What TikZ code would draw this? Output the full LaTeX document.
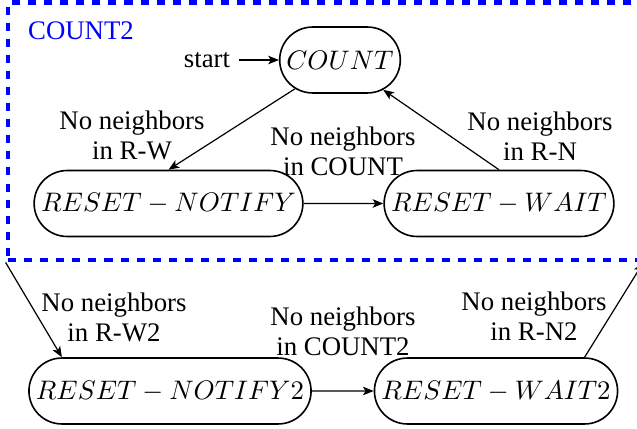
\documentclass[tikz,border=0pt]{standalone}
\usepackage{fontspec}
\setmainfont{Liberation Serif}
\usetikzlibrary{shapes.misc,arrows.meta,fit}
\tikzset{
  stnode/.style={draw, rounded rectangle, line width=0.6pt, minimum height=24.6pt, inner xsep=2pt},
  edgelbl/.style={align=center, inner sep=0pt},
  trans/.style={-{Stealth[length=4pt,width=3.2pt,inset=1pt]}, line width=0.45pt},
  groupbox/.style={draw=blue, dashed, line width=1.8pt, inner sep=0pt}
}
\begin{document}
\begin{tikzpicture}[x=0.37313pt, y=-0.37313pt]
\useasboundingbox (0,0) rectangle (637,429);
% states
\node[stnode] (count) at (340,60) {$COUNT$};
\node[inner xsep=3.3pt] (start) at (207,60) {start};
\node[stnode] (rn) at (168.5,203.5) {$RESET-NOTIFY$};
\node[stnode] (rw) at (499,203.5) {$RESET-WAIT$};
\node[stnode] (rn2) at (170,391) {$RESET-NOTIFY2$};
\node[stnode] (rw2) at (496,391) {$RESET-WAIT2$};
% group box
\coordinate (boxsw) at (8,260);
\coordinate (boxne) at (641,2.5);
\node[groupbox, fit=(boxsw)(boxne)] (box) {};
\node[text=blue, inner sep=0pt] (boxlbl) at (81,31) {COUNT2};
% transitions
\draw[trans] (start) -- (count);
\draw[trans] (count) -- (rn.north);
\draw[trans] (rn) -- (rw);
\draw[trans] (rw.north) -- (count);
\draw[trans] (box.south west) -- (rn2.north west);
\draw[trans] (rn2) -- (rw2);
\draw[trans] (rw2.north east) -- (box.south east);
% labels
\node[edgelbl] (l1) at (132,135) {No neighbors\\[-0.8pt]in R-W};
\node[edgelbl] (l2) at (343,151) {No neighbors\\[-0.8pt]in COUNT};
\node[edgelbl] (l3) at (540,136) {No neighbors\\[-0.8pt]in R-N};
\node[edgelbl] (l4) at (114,317) {No neighbors\\[-0.8pt]in R-W2};
\node[edgelbl] (l5) at (343,331) {No neighbors\\[-0.8pt]in COUNT2};
\node[edgelbl] (l6) at (534,316) {No neighbors\\[-0.8pt]in R-N2};
\end{tikzpicture}
\end{document}
